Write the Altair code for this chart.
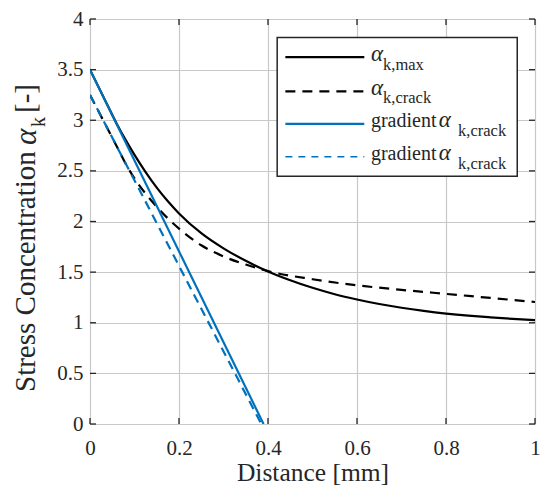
import altair as alt
import pandas as pd

# ---- data ----
x_max = [0.0, 0.03, 0.06, 0.08, 0.1, 0.125, 0.15, 0.175, 0.2, 0.25, 0.3, 0.35, 0.4,
         0.45, 0.5, 0.55, 0.6, 0.65, 0.7, 0.75, 0.8, 0.85, 0.9, 0.95, 1.0]
y_max = [3.5, 3.233, 2.966, 2.806, 2.658, 2.488, 2.335, 2.2, 2.08, 1.885, 1.735, 1.612, 1.507,
         1.42, 1.345, 1.282, 1.23, 1.185, 1.148, 1.117, 1.091, 1.07, 1.053, 1.038, 1.025]

x_crack = [0.0, 0.03, 0.06, 0.084, 0.1, 0.125, 0.15, 0.175, 0.2, 0.25, 0.3, 0.35, 0.4,
           0.5, 0.6, 0.7, 0.8, 0.9, 1.0]
y_crack = [3.25, 2.997, 2.743, 2.54, 2.425, 2.275, 2.145, 2.03, 1.93, 1.765, 1.655, 1.575, 1.51,
           1.43, 1.37, 1.325, 1.285, 1.245, 1.205]

x_grad_max = [0.0, 0.39]
y_grad_max = [3.5, 0.0]
x_grad_crack = [0.0, 0.385]
y_grad_crack = [3.25, 0.0]

x_ticks = [0, 0.2, 0.4, 0.6, 0.8, 1]
y_ticks = [0, 0.5, 1, 1.5, 2, 2.5, 3, 3.5, 4]

# ---- style ----
W, H = 445, 405
LEFT, TOP = 82, 11
SX, SY = W / 451, H / 414
FONT = "Liberation Serif"
AX = "#262626"
BLUE = "#0072BD"
GRID = "#c8c8c8"


def px(page_x):
    return (page_x - 92) * SX


def py(page_y):
    return (page_y - 16) * SY


xscale = alt.Scale(domain=[0, 1], nice=False, zero=False)
yscale = alt.Scale(domain=[0, 4], nice=False)

xaxis = alt.Axis(values=x_ticks, format="~g", grid=True, gridColor=GRID, gridWidth=1.2,
                 domain=False, ticks=False, labelFont=FONT, labelFontSize=21,
                 labelColor=AX, labelPadding=13, title="Distance [mm]",
                 titleFont=FONT, titleFontSize=25.5, titleFontWeight="normal",
                 titleColor=AX, titlePadding=2, labelFlush=False)
yaxis = alt.Axis(values=y_ticks, format="~g", grid=True, gridColor=GRID, gridWidth=1.2,
                 domain=False, ticks=False, labelFont=FONT, labelFontSize=21,
                 labelColor=AX, labelPadding=7, title=None, labelFlush=False)

X = alt.X("x:Q", scale=xscale, axis=xaxis)
Y = alt.Y("y:Q", scale=yscale, axis=yaxis)


def curve(xs, ys, color, width, dash=None):
    df = pd.DataFrame({"x": xs, "y": ys})
    kw = dict(color=color, strokeWidth=width, clip=True, interpolate="monotone")
    if dash:
        kw["strokeDash"] = dash
    return alt.Chart(df).mark_line(**kw).encode(x=X, y=Y)


layers = [
    curve(x_max, y_max, "black", 2.2),
    curve(x_crack, y_crack, "black", 2.2, [10, 7]),
    curve(x_grad_max, y_grad_max, BLUE, 2.2),
    curve(x_grad_crack, y_grad_crack, BLUE, 2.2, [9, 6]),
]

# inward ticks on all four sides
xt = pd.DataFrame({"x": x_ticks})
yt = pd.DataFrame({"y": y_ticks})
for y0, y1 in [(H, H - 6), (0, 6)]:
    layers.append(alt.Chart(xt).mark_rule(color=AX, strokeWidth=1.3).encode(
        x=X, y=alt.value(y0), y2=alt.value(y1)))
for x0, x1 in [(0, 6), (W, W - 6)]:
    layers.append(alt.Chart(yt).mark_rule(color=AX, strokeWidth=1.3).encode(
        y=Y, x=alt.value(x0), x2=alt.value(x1)))

one = alt.Data(values=[{"a": 1}])

# legend box
layers.append(alt.Chart(one).mark_rect(fill="white", stroke=AX, strokeWidth=1.5).encode(
    x=alt.value(px(281.7)), x2=alt.value(px(525)), y=alt.value(py(35)), y2=alt.value(py(176.7))))

leg_lines = [
    (55, "black", 2.2, None),
    (90, "black", 2.2, [10, 7]),
    (123.3, BLUE, 2.2, None),
    (156.7, BLUE, 1.5, [7, 6]),
]
for yy, col, w, dash in leg_lines:
    kw = dict(color=col, strokeWidth=w)
    if dash:
        kw["strokeDash"] = dash
    layers.append(alt.Chart(one).mark_rule(**kw).encode(
        x=alt.value(px(290)), x2=alt.value(px(370)), y=alt.value(py(yy))))


def txt(s, x, y, size, angle=0, align="left", style="normal"):
    return alt.Chart(one).mark_text(text=s, font=FONT, fontSize=size, color=AX,
                                    align=align, baseline="alphabetic", fontStyle=style,
                                    angle=angle).encode(x=alt.value(x), y=alt.value(y))


LF, AF, SF = 20, 23, 16.5
leg_texts = [
    ("α", 376.7, 59, AF, "italic"), ("k,max", 389, 68, SF, "normal"),
    ("α", 376.7, 93.3, AF, "italic"), ("k,crack", 389, 102, SF, "normal"),
    ("gradient", 376.7, 126.7, LF, "normal"), ("α", 445.5, 126.7, AF, "italic"),
    ("k,crack", 465, 136, SF, "normal"),
    ("gradient", 376.7, 160.5, LF, "normal"), ("α", 445.5, 160.5, AF, "italic"),
    ("k,crack", 465, 169.5, SF, "normal"),
]
for s, x, y, sz, st in leg_texts:
    layers.append(txt(s, px(x), py(y), sz, style=st))

# y-axis title with subscript (page coordinates -> plot coordinates)
TL, TT = 90, 19  # page position of the plot's top-left corner
layers.append(txt("Stress Concentration", 35 - TL, 392 - TT, 29, angle=270, align="left"))
layers.append(txt("α", 36 - TL, 145 - TT, 31, angle=270, align="left", style="italic"))
layers.append(txt("k", 45 - TL, 127 - TT, 20, angle=270, align="left"))
layers.append(txt("[-]", 35 - TL, 113 - TT, 29, angle=270, align="left"))

chart = alt.layer(*layers).properties(
    width=W, height=H,
    autosize=alt.AutoSizeParams(type="none"),
    padding={"left": LEFT, "top": TOP, "right": 6, "bottom": 62},
).configure_view(stroke=AX, strokeWidth=1.3).configure(background="white")

chart.save("out.html", embed_options={"renderer": "svg", "actions": False})
